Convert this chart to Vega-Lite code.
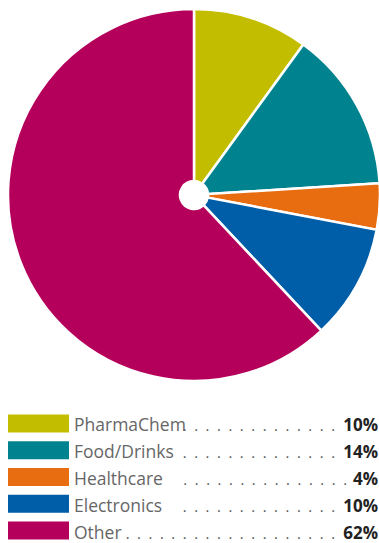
{
  "$schema": "https://vega.github.io/schema/vega-lite/v6.json",
  "padding": 0,
  "spacing": 20,
  "background": "white",
  "config": {"view": {"stroke": null}, "font": "Open Sans"},
  "data": {"values": [
    {"sector": "PharmaChem", "share": 10},
    {"sector": "Food/Drinks", "share": 14},
    {"sector": "Healthcare", "share": 4},
    {"sector": "Electronics", "share": 10},
    {"sector": "Other", "share": 62}
  ]},
  "transform": [
    {"window": [{"op": "row_number", "as": "rank"}]},
    {"calculate": "pad('', floor((265 - length(datum.sector) * 9.5) / 11.4) + (datum.share < 10 ? 1 : 0), '\u00a0\u00a0.')", "as": "leader"},
    {"calculate": "datum.share + '%'", "as": "pct"}
  ],
  "vconcat": [
    {
      "width": 388,
      "height": 390,
      "mark": {"type": "arc", "outerRadius": 186, "innerRadius": 14, "stroke": "white", "strokeWidth": 2.5},
      "encoding": {
        "theta": {"field": "share", "type": "quantitative", "stack": true},
        "order": {"field": "rank", "type": "quantitative"},
        "color": {
          "field": "sector", "type": "nominal", "legend": null,
          "scale": {"domain": ["PharmaChem", "Food/Drinks", "Healthcare", "Electronics", "Other"],
                    "range": ["#c3bd00", "#00838f", "#e86c10", "#005ea8", "#b5005b"]}
        }
      }
    },
    {
      "width": 379,
      "height": 134,
      "encoding": {
        "y": {"field": "sector", "type": "nominal", "axis": null,
              "sort": ["PharmaChem", "Food/Drinks", "Healthcare", "Electronics", "Other"],
              "scale": {"paddingInner": 0.327, "paddingOuter": 0.164}}
      },
      "layer": [
        {
          "mark": {"type": "rect"},
          "encoding": {
            "x": {"value": 8}, "x2": {"value": 69},
            "color": {
              "field": "sector", "type": "nominal", "legend": null,
              "scale": {"domain": ["PharmaChem", "Food/Drinks", "Healthcare", "Electronics", "Other"],
                        "range": ["#c3bd00", "#00838f", "#e86c10", "#005ea8", "#b5005b"]}
            }
          }
        },
        {
          "mark": {"type": "text", "align": "right", "baseline": "alphabetic", "dy": 8, "fontSize": 14.6, "color": "#555555", "dx": {"expr": "datum.share < 10 ? 12 : 0"}},
          "encoding": {"x": {"value": 335}, "text": {"field": "leader"}}
        },
        {
          "mark": {"type": "text", "align": "left", "baseline": "alphabetic", "dy": 8, "fontSize": 17.5, "color": "#666666"},
          "encoding": {"x": {"value": 74}, "text": {"field": "sector"}}
        },
        {
          "mark": {"type": "text", "align": "right", "baseline": "alphabetic", "dy": 8, "fontSize": 17, "fontWeight": "bold", "color": "#222222"},
          "encoding": {"x": {"value": 378}, "text": {"field": "pct"}}
        }
      ]
    }
  ]
}
